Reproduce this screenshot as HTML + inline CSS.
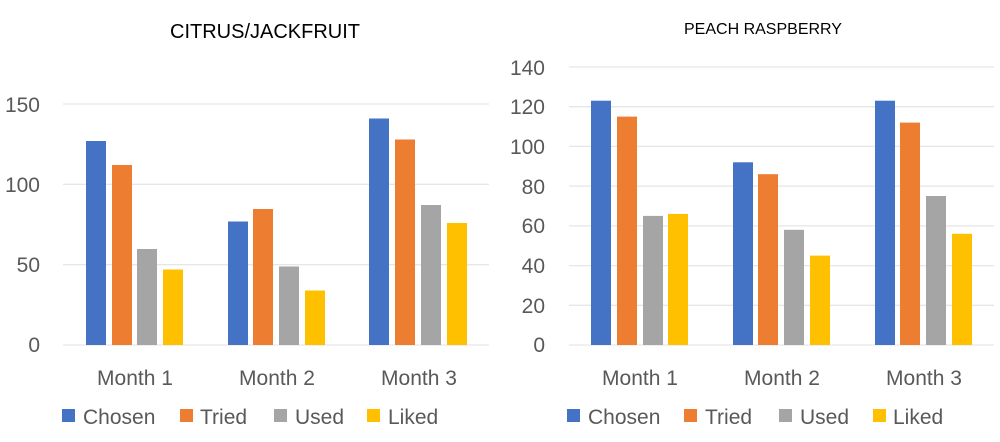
<!DOCTYPE html>
<html><head><meta charset="utf-8"><style>
body{margin:0;background:#fff;}
svg{display:block;font-family:"Liberation Sans",sans-serif;}
</style></head><body>
<svg width="1000" height="442" viewBox="0 0 1000 442">
<rect width="1000" height="442" fill="#fff"/>
<text x="265" y="38" font-size="20" text-anchor="middle" fill="#000">CITRUS/JACKFRUIT</text>
<text x="763" y="34" font-size="16" text-anchor="middle" fill="#000">PEACH RASPBERRY</text>
<g stroke="#e6e6e6" stroke-width="1.3">
<line x1="63" x2="489" y1="104" y2="104"/><line x1="63" x2="489" y1="184.3" y2="184.3"/><line x1="63" x2="489" y1="264.7" y2="264.7"/><line x1="63" x2="489" y1="345" y2="345"/>
<line x1="569" x2="994" y1="67" y2="67"/><line x1="569" x2="994" y1="106.7" y2="106.7"/><line x1="569" x2="994" y1="146.4" y2="146.4"/><line x1="569" x2="994" y1="186.1" y2="186.1"/><line x1="569" x2="994" y1="225.9" y2="225.9"/><line x1="569" x2="994" y1="265.6" y2="265.6"/><line x1="569" x2="994" y1="305.3" y2="305.3"/><line x1="569" x2="994" y1="345" y2="345"/>
</g>
<g font-size="21" fill="#595959" text-anchor="end">
<text x="40" y="112">150</text><text x="40" y="192">100</text><text x="40" y="272">50</text><text x="40" y="352">0</text>
<text x="545" y="75">140</text><text x="545" y="114">120</text><text x="545" y="154">100</text><text x="545" y="194">80</text><text x="545" y="233">60</text><text x="545" y="273">40</text><text x="545" y="313">20</text><text x="545" y="352">0</text>
</g>
<g>
<rect x="86" y="141" width="20" height="204" fill="#4472C4"/>
<rect x="112" y="165" width="20" height="180" fill="#ED7D31"/>
<rect x="137" y="249" width="20" height="96" fill="#A5A5A5"/>
<rect x="163" y="269.5" width="20" height="75.5" fill="#FFC000"/>
<rect x="228" y="221.5" width="20" height="123.5" fill="#4472C4"/>
<rect x="253" y="209" width="20" height="136" fill="#ED7D31"/>
<rect x="279" y="266.5" width="20" height="78.5" fill="#A5A5A5"/>
<rect x="305" y="290.5" width="20" height="54.5" fill="#FFC000"/>
<rect x="369" y="118.5" width="20" height="226.5" fill="#4472C4"/>
<rect x="395" y="139.5" width="20" height="205.5" fill="#ED7D31"/>
<rect x="421" y="205" width="20" height="140" fill="#A5A5A5"/>
<rect x="447" y="223" width="20" height="122" fill="#FFC000"/>
</g>
<g>
<rect x="591" y="100.7" width="20" height="244.3" fill="#4472C4"/>
<rect x="617" y="116.6" width="20" height="228.4" fill="#ED7D31"/>
<rect x="643" y="215.9" width="20" height="129.1" fill="#A5A5A5"/>
<rect x="668" y="213.9" width="20" height="131.1" fill="#FFC000"/>
<rect x="733" y="162.3" width="20" height="182.7" fill="#4472C4"/>
<rect x="758" y="174.2" width="20" height="170.8" fill="#ED7D31"/>
<rect x="784" y="229.8" width="20" height="115.2" fill="#A5A5A5"/>
<rect x="810" y="255.6" width="20" height="89.4" fill="#FFC000"/>
<rect x="875" y="100.7" width="20" height="244.3" fill="#4472C4"/>
<rect x="900" y="122.6" width="20" height="222.4" fill="#ED7D31"/>
<rect x="926" y="196" width="20" height="149" fill="#A5A5A5"/>
<rect x="952" y="233.8" width="20" height="111.2" fill="#FFC000"/>
</g>
<g font-size="21" fill="#595959" text-anchor="middle">
<text x="135" y="385">Month 1</text><text x="277" y="385">Month 2</text><text x="419" y="385">Month 3</text>
<text x="640" y="385">Month 1</text><text x="782" y="385">Month 2</text><text x="924" y="385">Month 3</text>
</g>
<g font-size="21" fill="#595959">
<rect x="62" y="409" width="13" height="13" fill="#4472C4"/><text x="83" y="424">Chosen</text>
<rect x="180" y="409" width="13" height="13" fill="#ED7D31"/><text x="200" y="424">Tried</text>
<rect x="274" y="409" width="13" height="13" fill="#A5A5A5"/><text x="295" y="424">Used</text>
<rect x="367" y="409" width="13" height="13" fill="#FFC000"/><text x="388" y="424">Liked</text>
<rect x="567" y="409" width="13" height="13" fill="#4472C4"/><text x="588" y="424">Chosen</text>
<rect x="684" y="409" width="13" height="13" fill="#ED7D31"/><text x="705" y="424">Tried</text>
<rect x="779" y="409" width="13" height="13" fill="#A5A5A5"/><text x="800" y="424">Used</text>
<rect x="873" y="409" width="13" height="13" fill="#FFC000"/><text x="893" y="424">Liked</text>
</g>
</svg>
</body></html>
